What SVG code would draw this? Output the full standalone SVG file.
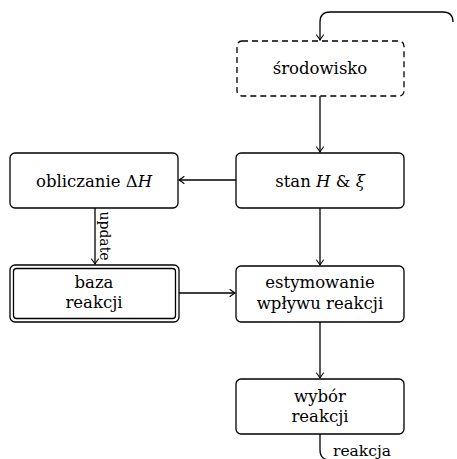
<svg xmlns="http://www.w3.org/2000/svg" width="457" height="459" viewBox="0 0 457 459">
<style>
  .box { fill: #fff; stroke: #000; stroke-width: 1.3; }
  .dash { stroke-dasharray: 6 4; }
  .t { font-family: "DejaVu Serif", serif; font-size: 16.5px; fill: #000; text-anchor: middle; }
  .it { font-style: italic; }
  .c { fill: none; stroke: #000; stroke-width: 1.3; }
</style>
<defs>
  <marker id="arr" markerUnits="userSpaceOnUse" markerWidth="12" markerHeight="12" refX="0" refY="0" viewBox="-6 -6 12 12" orient="auto" overflow="visible">
    <path d="M -5 -3.5 Q -1.5 -0.8 0 0 Q -1.5 0.8 -5 3.5" fill="none" stroke="#000" stroke-width="1.1" stroke-linecap="round"/>
  </marker>
</defs>
<rect width="457" height="459" fill="#fff"/>
<g id="connectors">
  <path class="c" d="M 320 96 L 320 152" marker-end="url(#arr)"/>
  <path class="c" d="M 236 180 L 179 180" marker-end="url(#arr)"/>
  <path class="c" d="M 95 208 L 95 264" marker-end="url(#arr)"/>
  <path class="c" d="M 179 293 L 235 293" marker-end="url(#arr)"/>
  <path class="c" d="M 320 208 L 320 265" marker-end="url(#arr)"/>
  <path class="c" d="M 320 322 L 320 378" marker-end="url(#arr)"/>
  <path class="c" d="M 453 22 Q 453 12 443 12 L 330 12 Q 320 12 320 22 L 320 40" marker-end="url(#arr)"/>
  <path class="c" d="M 320 434 L 320 450 Q 320 460 330 460"/>
  <text class="t" x="0" y="0" transform="translate(100 236) rotate(90)" style="font-size:14px">update</text>
  <text class="t" x="362" y="456" style="font-size:15.5px">reakcja</text>
</g>
<g id="srodowisko">
  <rect class="box dash" x="237" y="41" width="167" height="55" rx="5"/>
  <text class="t" x="320" y="74">środowisko</text>
</g>
<g id="stan">
  <rect class="box" x="236" y="153" width="168" height="55" rx="5"/>
  <text class="t" x="320" y="187">stan <tspan class="it">H</tspan> &amp; <tspan class="it">ξ</tspan></text>
</g>
<g id="obliczanie">
  <rect class="box" x="10" y="153" width="168" height="55" rx="5"/>
  <text class="t" x="94" y="187">obliczanie Δ<tspan class="it">H</tspan></text>
</g>
<g id="baza">
  <rect class="box" x="10" y="265" width="169" height="57" rx="5"/>
  <rect class="box" x="13.5" y="268.5" width="162" height="50" rx="3"/>
  <text class="t" x="94" y="288">baza</text>
  <text class="t" x="94" y="308">reakcji</text>
</g>
<g id="estymowanie">
  <rect class="box" x="236" y="266" width="168" height="56" rx="5"/>
  <text class="t" x="320" y="288">estymowanie</text>
  <text class="t" x="320" y="309">wpływu reakcji</text>
</g>
<g id="wybor">
  <rect class="box" x="236" y="379" width="168" height="55" rx="5"/>
  <text class="t" x="320" y="402">wybór</text>
  <text class="t" x="320" y="422">reakcji</text>
</g>
</svg>
